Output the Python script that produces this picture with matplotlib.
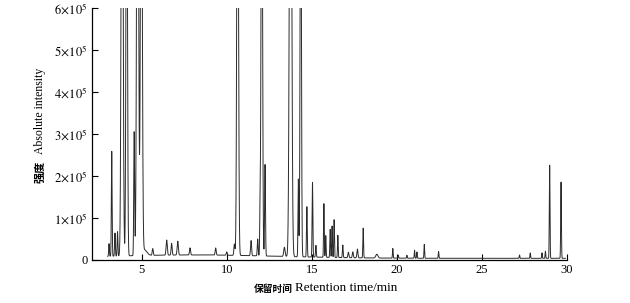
import numpy as np
import matplotlib
matplotlib.use("Agg")
import matplotlib.pyplot as plt

plt.rcParams['font.family'] = ['Liberation Serif', 'Noto Sans CJK SC']
plt.rcParams['mathtext.fontset'] = 'stix'

# Peak table: retention time (min), height, width (sigma, min)
peak_times = [3.08, 3.24, 3.43, 3.58, 3.85, 4.12, 4.56, 4.76, 4.98, 5.15,
              5.65, 6.47, 6.76, 7.12, 7.84, 9.35, 10.00, 10.45, 10.64,
              11.43, 11.82, 11.96, 12.06, 12.25, 13.39, 13.75, 14.21, 14.35,
              14.71, 15.04, 15.24, 15.71, 15.82, 16.08, 16.19, 16.31, 16.53,
              16.82, 17.15, 17.41, 17.68, 18.02, 18.82, 19.76, 20.08, 20.59,
              21.04, 21.18, 21.61, 22.45, 27.21, 27.84, 28.53, 28.73, 28.98, 29.65]
peak_heights = [30e3, 250e3, 55e3, 58e3, 1.5e6, 1.2e6, 295e3, 1.5e6, 1.2e6, 14e3,
                16e3, 36e3, 28e3, 33e3, 17e3, 17e3, 8e3, 27e3, 1.3e6,
                36e3, 40e3, 105e3, 1.2e6, 218e3, 22e3, 1.5e6, 185e3, 1.1e6,
                120e3, 178e3, 28e3, 128e3, 52e3, 67e3, 75e3, 90e3, 53e3,
                30e3, 13e3, 14e3, 21e3, 71e3, 9e3, 23e3, 7e3, 7e3,
                19e3, 15e3, 33e3, 16e3, 8e3, 13e3, 13e3, 17e3, 222e3, 182e3]
peak_widths = [0.02, 0.022, 0.022, 0.022, 0.05, 0.04, 0.025, 0.05, 0.05, 0.15,
               0.03, 0.035, 0.03, 0.035, 0.03, 0.03, 0.03, 0.03, 0.045,
               0.03, 0.025, 0.022, 0.04, 0.025, 0.04, 0.06, 0.022, 0.035,
               0.022, 0.022, 0.022, 0.02, 0.02, 0.02, 0.02, 0.02, 0.02,
               0.022, 0.03, 0.03, 0.03, 0.02, 0.06, 0.018, 0.018, 0.018,
               0.018, 0.018, 0.018, 0.018, 0.018, 0.018, 0.018, 0.018, 0.02, 0.02]
baseline_level = 4e3
baseline_hump = (8.0, 8e3, 5.0)   # centre, height, sigma of the slow baseline rise

run_start, run_end = 3.0, 29.9
x_ticks = [5, 10, 15, 20, 25, 30]
y_ticks = [0, 1e5, 2e5, 3e5, 4e5, 5e5, 6e5]
y_tick_labels = ['0'] + [r'$%d\!\times\!10^{5}$' % k for k in range(1, 7)]

t = np.linspace(run_start, run_end, 12000)
signal = np.full_like(t, baseline_level)
c, h, s = baseline_hump
signal += h * np.exp(-0.5 * ((t - c) / s) ** 2)
for pt, ph, pw in zip(peak_times, peak_heights, peak_widths):
    signal += ph * np.exp(-0.5 * ((t - pt) / pw) ** 2)

fig = plt.figure(figsize=(6.3, 3.03), dpi=100)
ax = fig.add_axes([92 / 630, 1 - 260 / 303, (567 - 92) / 630, (260 - 8.3) / 303])
ax.plot(t, signal, color='#2a2a2a', lw=0.7)
ax.set_xlim(2.08, 30)
ax.set_ylim(0, 6e5)
ax.set_xticks(x_ticks)
ax.set_yticks(y_ticks)
ax.set_yticklabels(y_tick_labels)
for sp in ['top', 'right']:
    ax.spines[sp].set_visible(False)
for sp in ['left', 'bottom']:
    ax.spines[sp].set_linewidth(0.9)
ax.tick_params(direction='in', length=4, width=0.8, labelsize=9, pad=3)

# axis titles (Chinese bold + English serif)
fig.text(40 / 630, 1 - 183 / 303, '强度', rotation=90, ha='center', va='bottom',
         family='Noto Sans CJK SC', fontweight='bold', fontsize=8)
fig.text(40 / 630, 1 - 154 / 303, 'Absolute intensity', rotation=90, ha='center', va='bottom',
         family='Liberation Serif', fontsize=8.5)
fig.text(293 / 630, 1 - 288.5 / 303, '保留时间', ha='right', va='center',
         family='Noto Sans CJK SC', fontweight='bold', fontsize=7)
fig.text(295 / 630, 1 - 288 / 303, 'Retention time/min', ha='left', va='center',
         family='Liberation Serif', fontsize=9.5)

fig.savefig('out.png', dpi=100)
